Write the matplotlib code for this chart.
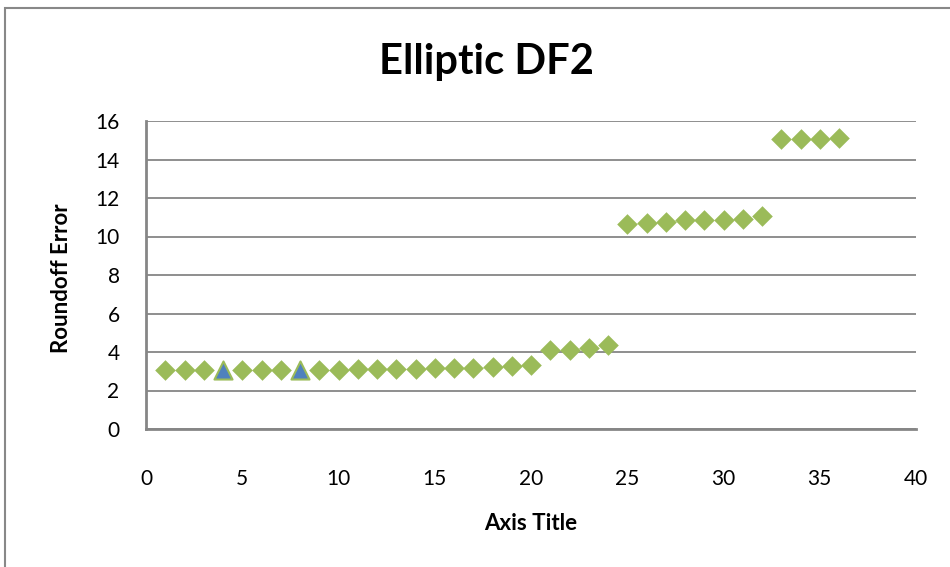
import matplotlib
matplotlib.use("Agg")
from matplotlib import pyplot as plt
from matplotlib.patches import Rectangle

# roundoff error per coefficient word length, elliptic direct form II
x_main = [1, 2, 3, 5, 6, 7, 9, 10, 11, 12, 13, 14, 15, 16, 17, 18, 19, 20,
          21, 22, 23, 24, 25, 26, 27, 28, 29, 30, 31, 32, 33, 34, 35, 36]
y_main = [3.04, 3.04, 3.04, 3.05, 3.06, 3.07, 3.08, 3.09, 3.10, 3.11, 3.12,
          3.13, 3.15, 3.17, 3.19, 3.22, 3.27, 3.35,
          4.12, 4.12, 4.20, 4.35,
          10.65, 10.69, 10.74, 10.86, 10.88, 10.88, 10.93, 11.07,
          15.06, 15.06, 15.08, 15.10]
x_mark = [4, 8]
y_mark = [3.06, 3.08]

GREEN = "#9bbb59"
BLUE = "#4f81bd"
GRID = "#868686"

plt.rcParams["font.family"] = ["Lato", "DejaVu Sans"]

fig = plt.figure(figsize=(9.5, 5.67), dpi=100)
W, H = 950, 567
ax = fig.add_axes([146 / W, 1 - 429 / H, (916 - 146) / W, (429 - 121) / H])

# chart area border
fig.patches.append(Rectangle((5 / W, -0.1), 1.2, 1 - 8 / H + 0.1,
                             transform=fig.transFigure, fill=False,
                             edgecolor="#888888", linewidth=1.5))

ax.scatter(x_main, y_main, marker="D", s=10.5 ** 2, color=GREEN,
           linewidths=0, zorder=3)
ax.scatter(x_mark, y_mark, marker="^", s=13 ** 2, color=BLUE,
           edgecolors=GREEN, linewidths=1.5, zorder=4)

ax.set_xlim(0, 40)
ax.set_ylim(0, 16)
ax.set_xticks(range(0, 41, 5))
ax.set_yticks(range(0, 17, 2))
ax.yaxis.grid(True, color=GRID, linewidth=1.3)
ax.set_axisbelow(True)
for side in ["top", "right"]:
    ax.spines[side].set_visible(False)
for side in ["left", "bottom"]:
    ax.spines[side].set_color(GRID)
    ax.spines[side].set_linewidth(2)
ax.tick_params(length=0, labelsize=15)
ax.tick_params(axis="x", pad=29)
ax.tick_params(axis="y", pad=19)

fig.text(486 / W, 1 - 62 / H, "Elliptic DF2", ha="center", va="center",
         fontsize=30, fontweight="bold")
fig.text(531 / W, 1 - 523 / H, "Axis Title", ha="center", va="center",
         fontsize=16, fontweight="bold")
fig.text(62 / W, 1 - 278 / H, "Roundoff Error", ha="center", va="center",
         rotation=90, fontsize=16, fontweight="bold")

fig.savefig("out.png", dpi=100)
